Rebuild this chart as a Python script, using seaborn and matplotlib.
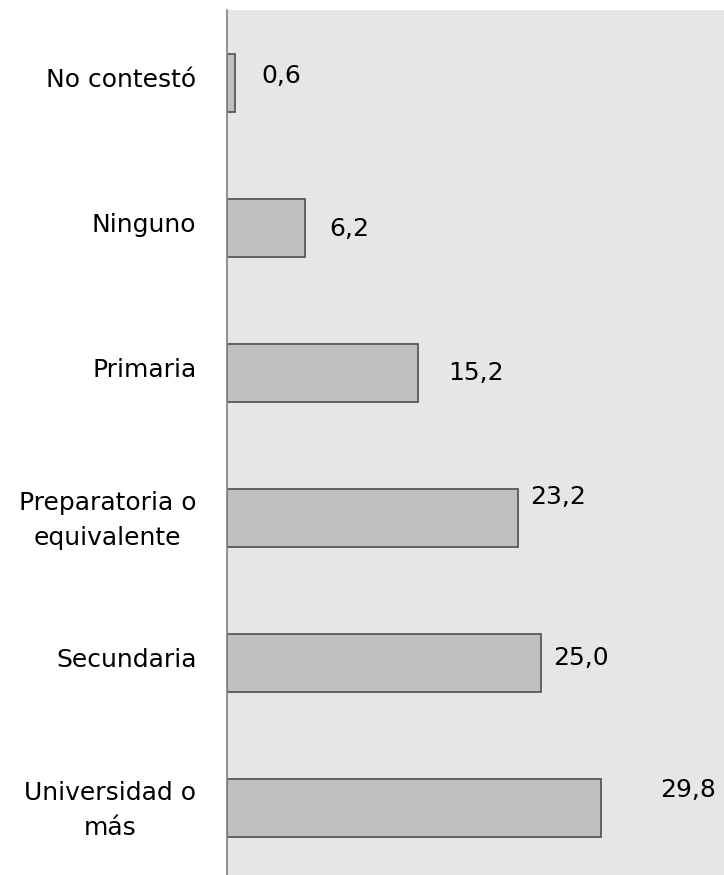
import matplotlib
matplotlib.use("Agg")
import pandas as pd
import matplotlib.pyplot as plt
import matplotlib.transforms as mtransforms
import seaborn as sns

categories = ["No contestó", "Ninguno", "Primaria", "Preparatoria o\nequivalente",
              "Secundaria", "Universidad o\nmás"]
values = [0.6, 6.2, 15.2, 23.2, 25.0, 29.8]
value_labels = ["0,6", "6,2", "15,2", "23,2", "25,0", "29,8"]

# where Excel put each value label (pixels from bar end / from bar centre)
label_dx = [47, 44, 58, 40, 40, 87]
label_dy = [7, -1, 0, 21, 5, 18]

df = pd.DataFrame({"nivel": categories, "pct": values})

sns.set_style("white")
plt.rcParams["font.family"] = ["DejaVu Sans"]

fig = plt.figure(figsize=(7.24, 8.75), dpi=100)
ax = fig.add_axes([227 / 724, 0, 497 / 724, 865 / 875])
ax.set_facecolor("#e6e6e6")

sns.barplot(data=df, x="pct", y="nivel", orient="h", color="#c0c0c0",
            edgecolor="#595959", linewidth=1.3, width=0.4, saturation=1, ax=ax)

ax.set_xlim(0, 39.6)
ax.set_ylim(5.462, -0.5)
ax.set_xlabel("")
ax.set_ylabel("")
ax.set_xticks([])
ax.tick_params(axis="y", length=0, pad=22, labelsize=18, labelcolor="black")
shift = mtransforms.ScaledTranslation(0, 5 / 100, fig.dpi_scale_trans)
for lbl in ax.get_yticklabels():
    lbl.set_multialignment("center")
    lbl.set_linespacing(1.55)
    lbl.set_transform(lbl.get_transform() + shift)

for s in ["top", "right", "bottom"]:
    ax.spines[s].set_visible(False)
ax.spines["left"].set_color("#808080")
ax.spines["left"].set_linewidth(1.2)

for i, (v, t) in enumerate(zip(values, value_labels)):
    ax.annotate(t, xy=(v, i), xytext=(label_dx[i] * 0.72, label_dy[i] * 0.72),
                textcoords="offset points", ha="center", va="center",
                fontsize=18, color="black")

fig.savefig("out.png", dpi=100)
